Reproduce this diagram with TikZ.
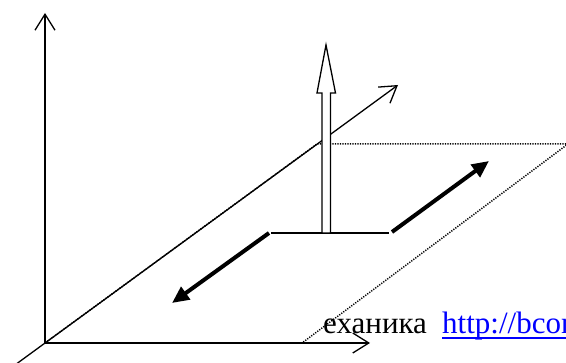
\documentclass[tikz,border=0pt]{standalone}
\usepackage{fontspec}
\setmainfont{Liberation Serif}
\usetikzlibrary{arrows.meta}
\definecolor{linkblue}{RGB}{0,0,255}
\tikzset{
  axis/.style={line width=1.3pt,-{Straight Barb[length=16pt,width=20pt,line width=1.3pt]}},
  planeedge/.style={line width=1.5pt,dash pattern=on 1.2pt off 1.3pt},
  thin line/.style={line width=1.3pt},
  bigarrow/.style={line width=4pt,-{Triangle[length=17pt,width=15pt]}},
  hollow/.style={line width=1.3pt,fill=white,draw=black,line join=miter},
  txt/.style={inner sep=0pt,anchor=base west,font=\fontsize{31}{33}\selectfont}
}
\begin{document}
\begin{tikzpicture}[x=1pt,y=-1pt]
\useasboundingbox (0,0) rectangle (566,363);
\clip (0,0) rectangle (566,363);
% coordinates
\coordinate (O) at (45,343);
\coordinate (Ztop) at (45,13);
\coordinate (Xend) at (370,343);
\coordinate (Dlow) at (17,363.5);
\coordinate (Dend) at (398,85);
\coordinate (P1) at (317,144);
\coordinate (P2) at (568,144);
\coordinate (P3) at (302,343);
\coordinate (Sl) at (271,233);
\coordinate (Sr) at (389,233);
\coordinate (La) at (269,233);
\coordinate (Lb) at (172,303);
\coordinate (Ra) at (392,232);
\coordinate (Rb) at (489,161);
% text
\node[txt] (word) at (323,334) {еханика};
\node[txt,text=linkblue] (link) at (442,334) {http://bcon};
\draw[linkblue,line width=1.3pt] ([yshift=-4pt]link.base west) -- ([yshift=-4pt]link.base east);
% plane
\draw[planeedge] (O) -- (P1) -- (P2) -- (P3) -- cycle;
% axes
\draw[axis] (Dlow) -- (Dend);
\draw[axis] (O) -- (Ztop);
\draw[axis] (O) -- (Xend);
% segment
\draw[thin line] (Sl) -- (Sr);
% hollow vertical arrow
\draw[hollow] (322,233) -- (322,93) -- (317,93) -- (326,45) -- (335.5,93) -- (330.5,93) -- (330.5,233) -- cycle;
% thick arrows
\draw[bigarrow] (La) -- (Lb);
\draw[bigarrow] (Ra) -- (Rb);
\end{tikzpicture}
\end{document}
